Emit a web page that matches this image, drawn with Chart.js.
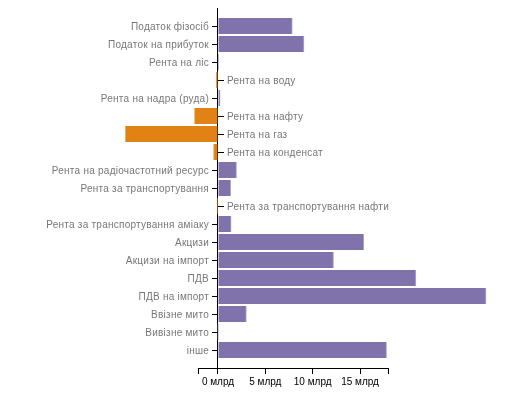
<!DOCTYPE html>
<html>
<head>
<meta charset="utf-8">
<script src="https://cdn.jsdelivr.net/npm/chart.js@4.4.1/dist/chart.umd.min.js"></script>
<style>
  html, body { margin: 0; padding: 0; background: #fff; }
  #wrap { width: 531px; height: 401px; position: relative; }
</style>
</head>
<body>
<div id="wrap"><canvas id="taxChart"></canvas></div>
<script>
const purple = "#8073ac";
const orange = "#e08214";

const categories = [
    "Податок фізосіб", "Податок на прибуток", "Рента на ліс", "Рента на воду",
    "Рента на надра (руда)", "Рента на нафту", "Рента на газ", "Рента на конденсат",
    "Рента на радіочастотний ресурс", "Рента за транспортування",
    "Рента за транспортування нафти", "Рента за транспортування аміаку",
    "Акцизи", "Акцизи на імпорт", "ПДВ", "ПДВ на імпорт",
    "Ввізне мито", "Вивізне мито", "інше"
];
// billions, negative = shown in orange on the left of zero
const values = [
    7.85, 9.08, 0.02, -0.2,
    0.23, -2.49, -9.79, -0.48,
    1.96, 1.35,
    -0.1, 1.39,
    15.4, 12.2, 20.9, 28.3,
    3.0, 0, 17.8
];
const xTickValues = [0, 5, 10, 15];
const xTickSuffix = " млрд";
const xDomain = [-2.11, 17.95];

// category labels sit next to the zero line, on the side opposite to the bar
const rowLabels = {
    id: 'rowLabels',
    afterDraw(chart) {
        const {ctx, scales: {x, y}} = chart;
        const x0 = x.getPixelForValue(0);
        ctx.save();
        ctx.font = '10px "Liberation Sans", Arial, sans-serif';
        ctx.letterSpacing = '0.25px';
        ctx.fillStyle = '#777';
        ctx.strokeStyle = '#000';
        ctx.lineWidth = 1;
        ctx.textBaseline = 'middle';
        categories.forEach((name, i) => {
            const yy = Math.round(y.getPixelForValue(i)) + 0.5;
            const dir = values[i] < 0 ? 1 : -1;
            ctx.beginPath();
            ctx.moveTo(x0, yy);
            ctx.lineTo(x0 + dir * 6, yy);
            ctx.stroke();
            ctx.textAlign = dir < 0 ? 'right' : 'left';
            ctx.fillText(name, x0 + dir * 9, yy + 0.5);
        });
        ctx.restore();
    }
};

const taxChart = new Chart(document.getElementById('taxChart'), {
    type: 'bar',
    data: {
        datasets: [{
            data: values.map((v, i) => ({x: v, y: i})),
            backgroundColor: values.map(v => v < 0 ? orange : purple),
            borderColor: values.map(v => v < 0 ? '#efb472' : '#b3abd3'),
            borderWidth: {left: 1, right: 1, top: 0, bottom: 0},
            borderSkipped: 'start',
            barThickness: 16,
            clip: false
        }]
    },
    options: {
        indexAxis: 'y',
        responsive: true,
        maintainAspectRatio: false,
        animation: false,
        layout: {
            padding: {left: 198, right: 143, top: 8, bottom: 11}
        },
        plugins: {
            legend: false,
            tooltip: {enabled: false}
        },
        scales: {
            x: {
                type: 'linear',
                min: xDomain[0],
                max: xDomain[1],
                afterBuildTicks: (scale) => {
                    scale.ticks = [xDomain[0], ...xTickValues, xDomain[1]].map(v => ({value: v}));
                },
                ticks: {
                    autoSkip: false,
                    minRotation: 0,
                    maxRotation: 0,
                    padding: 2,
                    color: '#000',
                    font: {family: '"Liberation Sans", Arial, sans-serif', size: 10},
                    callback: (v) => xTickValues.includes(v) ? v + xTickSuffix : ''
                },
                grid: {
                    color: (ctx) => ctx.tick && ctx.tick.value === 0 ? '#000' : 'rgba(0,0,0,0)',
                    tickColor: '#000',
                    tickLength: 6,
                    drawTicks: true
                },
                border: {display: true, color: '#000', width: 1}
            },
            y: {
                type: 'linear',
                min: -1,
                max: categories.length,
                reverse: true,
                offset: false,
                grid: {offset: false},
                display: false
            }
        }
    },
    plugins: [rowLabels]
});
</script>
</body>
</html>
